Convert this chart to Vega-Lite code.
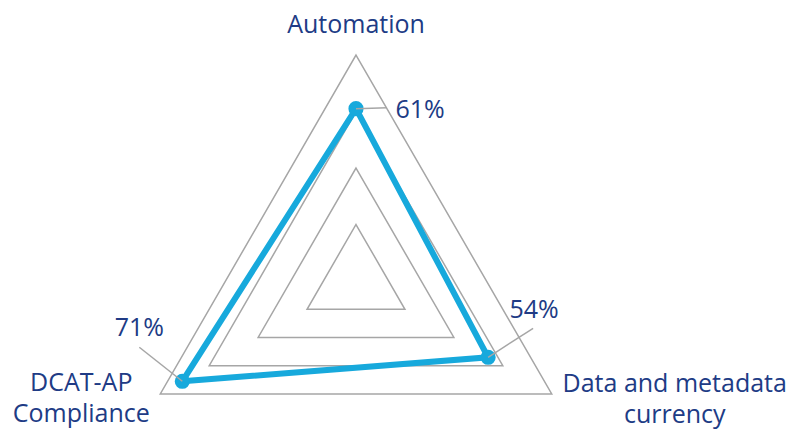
{
  "$schema": "https://vega.github.io/schema/vega-lite/v6.json",
  "width": 790,
  "height": 429,
  "autosize": {"type": "none"},
  "padding": 0,
  "background": "white",
  "config": {"view": {"stroke": null}},
  "datasets": {
    "scores": [
      {"axis": "Automation", "label": "Automation", "idx": 0, "value": 61},
      {"axis": "Data and metadata currency", "label": "Data and metadata\ncurrency", "idx": 1, "value": 54},
      {"axis": "DCAT-AP Compliance", "label": "DCAT-AP\nCompliance", "idx": 2, "value": 71}
    ],
    "grid": [
      {"level": 20, "idx": 0}, {"level": 20, "idx": 1}, {"level": 20, "idx": 2},
      {"level": 40, "idx": 0}, {"level": 40, "idx": 1}, {"level": 40, "idx": 2},
      {"level": 60, "idx": 0}, {"level": 60, "idx": 1}, {"level": 60, "idx": 2},
      {"level": 80, "idx": 0}, {"level": 80, "idx": 1}, {"level": 80, "idx": 2}
    ]
  },
  "layer": [
    {
      "data": {"name": "grid"},
      "transform": [
        {"calculate": "(90 - datum.idx * 120) * PI / 180", "as": "ang"},
        {"calculate": "datum.level * cos(datum.ang)", "as": "px"},
        {"calculate": "datum.level * sin(datum.ang)", "as": "py"}
      ],
      "mark": {"type": "line", "interpolate": "linear-closed", "stroke": "#A6A6A6", "strokeWidth": 1.5},
      "encoding": {
        "x": {"field": "px", "type": "quantitative", "scale": {"domain": [-126.02, 153.63], "nice": false, "zero": false}, "axis": null},
        "y": {"field": "py", "type": "quantitative", "scale": {"domain": [-52.39, 99.47], "nice": false, "zero": false}, "axis": null},
        "detail": {"field": "level", "type": "nominal"},
        "order": {"field": "idx", "type": "quantitative"}
      }
    },
    {
      "data": {"name": "scores"},
      "transform": [
        {"calculate": "(90 - datum.idx * 120) * PI / 180", "as": "ang"},
        {"calculate": "datum.value * cos(datum.ang)", "as": "px"},
        {"calculate": "datum.value * sin(datum.ang)", "as": "py"},
        {"calculate": "80 * cos(datum.ang)", "as": "ox"},
        {"calculate": "80 * sin(datum.ang)", "as": "oy"},
        {"calculate": "datum.value + '%'", "as": "pct"}
      ],
      "encoding": {
        "x": {"field": "px", "type": "quantitative", "scale": {"domain": [-126.02, 153.63], "nice": false, "zero": false}, "axis": null},
        "y": {"field": "py", "type": "quantitative", "scale": {"domain": [-52.39, 99.47], "nice": false, "zero": false}, "axis": null}
      },
      "layer": [
        {
          "mark": {"type": "line", "interpolate": "linear-closed", "stroke": "#17A9DC", "strokeWidth": 6, "strokeJoin": "miter"},
          "encoding": {"order": {"field": "idx", "type": "quantitative"}}
        },
        {
          "mark": {"type": "circle", "color": "#17A9DC", "opacity": 1, "size": 230}
        },
        {
          "transform": [{"filter": "datum.idx == 0"}],
          "mark": {"type": "rule", "stroke": "#A6A6A6", "strokeWidth": 1.5, "x2Offset": 31, "y2Offset": -1},
          "encoding": {"x2": {"field": "px"}, "y2": {"field": "py"}}
        },
        {
          "transform": [{"filter": "datum.idx == 1"}],
          "mark": {"type": "rule", "stroke": "#A6A6A6", "strokeWidth": 1.5, "x2Offset": 45, "y2Offset": -29},
          "encoding": {"x2": {"field": "px"}, "y2": {"field": "py"}}
        },
        {
          "transform": [{"filter": "datum.idx == 2"}],
          "mark": {"type": "rule", "stroke": "#A6A6A6", "strokeWidth": 1.5, "x2Offset": -43, "y2Offset": -34},
          "encoding": {"x2": {"field": "px"}, "y2": {"field": "py"}}
        },
        {
          "transform": [{"filter": "datum.idx == 0"}],
          "mark": {"type": "text", "font": "Open Sans", "fontSize": 25, "color": "#203B85", "align": "center", "baseline": "alphabetic", "dx": 64, "dy": 9},
          "encoding": {"text": {"field": "pct"}}
        },
        {
          "transform": [{"filter": "datum.idx == 1"}],
          "mark": {"type": "text", "font": "Open Sans", "fontSize": 25, "color": "#203B85", "align": "center", "baseline": "alphabetic", "dx": 46, "dy": -39},
          "encoding": {"text": {"field": "pct"}}
        },
        {
          "transform": [{"filter": "datum.idx == 2"}],
          "mark": {"type": "text", "font": "Open Sans", "fontSize": 25, "color": "#203B85", "align": "center", "baseline": "alphabetic", "dx": -43, "dy": -45},
          "encoding": {"text": {"field": "pct"}}
        },
        {
          "transform": [{"filter": "datum.idx == 0"}],
          "mark": {"type": "text", "font": "Open Sans", "fontSize": 25, "color": "#203B85", "align": "center", "baseline": "alphabetic", "dx": 0, "dy": -22},
          "encoding": {
            "x": {"field": "ox", "type": "quantitative"},
            "y": {"field": "oy", "type": "quantitative"},
            "text": {"field": "label"}
          }
        },
        {
          "transform": [{"filter": "datum.idx == 1"}],
          "mark": {"type": "text", "font": "Open Sans", "fontSize": 25, "color": "#203B85", "align": "center", "baseline": "alphabetic", "lineBreak": "\n", "lineHeight": 31, "dx": 123, "dy": -2},
          "encoding": {
            "x": {"field": "ox", "type": "quantitative"},
            "y": {"field": "oy", "type": "quantitative"},
            "text": {"field": "label"}
          }
        },
        {
          "transform": [{"filter": "datum.idx == 2"}],
          "mark": {"type": "text", "font": "Open Sans", "fontSize": 25, "color": "#203B85", "align": "center", "baseline": "alphabetic", "lineBreak": "\n", "lineHeight": 31, "dx": -79, "dy": -3},
          "encoding": {
            "x": {"field": "ox", "type": "quantitative"},
            "y": {"field": "oy", "type": "quantitative"},
            "text": {"field": "label"}
          }
        }
      ]
    }
  ]
}
